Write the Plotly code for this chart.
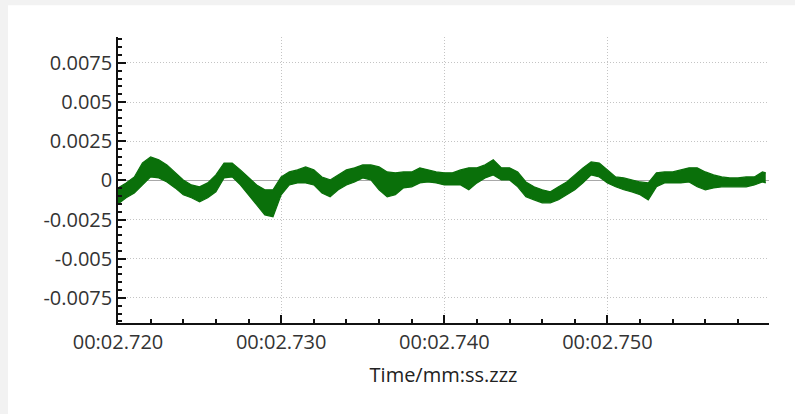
import plotly.graph_objects as go

# Sample times in milliseconds (00:02.720 ... 00:02.7597)
time_ms = [
    2720.0, 2720.5, 2721.0, 2721.5, 2722.0, 2722.5, 2723.0, 2723.5, 2724.0, 2724.5,
    2725.0, 2725.5, 2726.0, 2726.5, 2727.0, 2727.5, 2728.0, 2728.5, 2729.0, 2729.5,
    2730.0, 2730.5, 2731.0, 2731.5, 2732.0, 2732.5, 2733.0, 2733.5, 2734.0, 2734.5,
    2735.0, 2735.5, 2736.0, 2736.5, 2737.0, 2737.5, 2738.0, 2738.5, 2739.0, 2739.5,
    2740.0, 2740.5, 2741.0, 2741.5, 2742.0, 2742.5, 2743.0, 2743.5, 2744.0, 2744.5,
    2745.0, 2745.5, 2746.0, 2746.5, 2747.0, 2747.5, 2748.0, 2748.5, 2749.0, 2749.5,
    2750.0, 2750.5, 2751.0, 2751.5, 2752.0, 2752.5, 2753.0, 2753.5, 2754.0, 2754.5,
    2755.0, 2755.5, 2756.0, 2756.5, 2757.0, 2757.5, 2758.0, 2758.5, 2759.0, 2759.5,
    2759.7,
]

# Upper and lower envelope of the signal in each sample window
signal_max = [
    -0.00048, -0.00016, 0.00022, 0.00111, 0.00150, 0.00131, 0.00099, 0.00054, 0.00003, -0.00029,
    -0.00041, -0.00016, 0.00035, 0.00111, 0.00111, 0.00067, 0.00016, -0.00029, -0.00060, -0.00060,
    0.00022, 0.00054, 0.00067, 0.00086, 0.00067, 0.00022, 0.00003, 0.00035, 0.00067, 0.00080,
    0.00099, 0.00099, 0.00086, 0.00054, 0.00048, 0.00054, 0.00054, 0.00080, 0.00067, 0.00054,
    0.00048, 0.00048, 0.00067, 0.00080, 0.00080, 0.00099, 0.00131, 0.00080, 0.00080, 0.00054,
    -0.00010, -0.00041, -0.00060, -0.00073, -0.00041, -0.00010, 0.00035, 0.00080, 0.00118, 0.00111,
    0.00067, 0.00022, 0.00016, 0.00003, -0.00010, -0.00016, 0.00048, 0.00054, 0.00054, 0.00067,
    0.00080, 0.00080, 0.00054, 0.00035, 0.00022, 0.00016, 0.00016, 0.00022, 0.00022, 0.00054,
    0.00048,
]
signal_min = [
    -0.00150, -0.00111, -0.00080, -0.00029, 0.00022, 0.00016, -0.00010, -0.00048, -0.00092, -0.00111,
    -0.00137, -0.00111, -0.00073, 0.00016, 0.00022, -0.00029, -0.00092, -0.00156, -0.00220, -0.00232,
    -0.00092, -0.00029, -0.00016, -0.00016, -0.00029, -0.00080, -0.00105, -0.00060, -0.00029, -0.00010,
    0.00016, 0.00003, -0.00060, -0.00105, -0.00092, -0.00048, -0.00041, -0.00016, -0.00010, -0.00016,
    -0.00029, -0.00029, -0.00029, -0.00060, -0.00016, 0.00016, 0.00035, 0.00003, 0.00003, -0.00041,
    -0.00105, -0.00124, -0.00143, -0.00143, -0.00124, -0.00092, -0.00060, -0.00016, 0.00035, 0.00022,
    -0.00016, -0.00041, -0.00060, -0.00073, -0.00092, -0.00124, -0.00041, -0.00016, -0.00016, -0.00016,
    -0.00010, -0.00041, -0.00060, -0.00048, -0.00041, -0.00041, -0.00041, -0.00041, -0.00029, -0.00010,
    -0.00016,
]

# Axis ticks
x_tick_ms = [2720, 2730, 2740, 2750]
x_tick_text = ["00:02.720", "00:02.730", "00:02.740", "00:02.750"]
x_minor_ms = [2722, 2724, 2726, 2728, 2732, 2734, 2736, 2738, 2742, 2744, 2746, 2748,
              2752, 2754, 2756, 2758]
y_tick_vals = [0.0075, 0.005, 0.0025, 0, -0.0025, -0.005, -0.0075]
y_tick_text = ["0.0075", "0.005", "0.0025", "0", "-0.0025", "-0.005", "-0.0075"]

GREEN = "#0a700a"
FONT = "Open Sans"
AXIS = "#111111"

t_sec = [t / 1000.0 for t in time_ms]

fig = go.Figure()
fig.add_trace(go.Scatter(
    x=t_sec, y=signal_max, mode="lines",
    line=dict(color=GREEN, width=1.2), hoverinfo="skip", showlegend=False,
))
fig.add_trace(go.Scatter(
    x=t_sec, y=signal_min, mode="lines",
    line=dict(color=GREEN, width=1.2), fill="tonexty", fillcolor=GREEN,
    hoverinfo="skip", showlegend=False,
))

# Light grey window edge along the left and top of the card
fig.add_shape(type="rect", xref="paper", yref="paper",
              x0=-0.1813, x1=-0.169, y0=-0.32, y1=1.13,
              fillcolor="#f2f2f2", line=dict(width=0), layer="below")
fig.add_shape(type="rect", xref="paper", yref="paper",
              x0=-0.1813, x1=1.05, y0=1.1106, y1=1.13,
              fillcolor="#f2f2f2", line=dict(width=0), layer="below")

fig.update_layout(
    width=795, height=414,
    margin=dict(l=118, r=26, t=37, b=91),
    paper_bgcolor="white",
    plot_bgcolor="white",
    font=dict(family=FONT, size=20, color="#333333"),
    xaxis=dict(
        range=[2.72, 2.7599],
        tickmode="array",
        tickvals=[v / 1000.0 for v in x_tick_ms],
        ticktext=x_tick_text,
        ticks="inside", ticklen=8, tickwidth=1.5, tickcolor=AXIS,
        minor=dict(tickmode="array", tickvals=[v / 1000.0 for v in x_minor_ms],
                   ticks="inside", ticklen=4, tickwidth=1.5, tickcolor=AXIS,
                   showgrid=False),
        showgrid=True, gridcolor="#c4c4c4", griddash="1px,2px", gridwidth=1,
        showline=True, linecolor=AXIS, linewidth=1.5,
        zeroline=False,
        title=dict(text="Time/mm:ss.zzz", font=dict(size=20, color="#222222"), standoff=14),
        tickfont=dict(size=20, color="#333333"),
    ),
    yaxis=dict(
        range=[-0.0091, 0.00915],
        tickmode="array",
        tickvals=y_tick_vals,
        ticktext=y_tick_text,
        ticks="inside", ticklen=8, tickwidth=1.5, tickcolor=AXIS,
        minor=dict(dtick=0.0005, tick0=0, ticks="inside", ticklen=4, tickwidth=1.5,
                   tickcolor=AXIS, showgrid=False),
        showgrid=True, gridcolor="#c4c4c4", griddash="1px,2px", gridwidth=1,
        showline=True, linecolor=AXIS, linewidth=1.5,
        zeroline=True, zerolinecolor="#a8a8a8", zerolinewidth=1,
        tickfont=dict(size=20, color="#333333"),
    ),
)

fig.write_html("out.html")
